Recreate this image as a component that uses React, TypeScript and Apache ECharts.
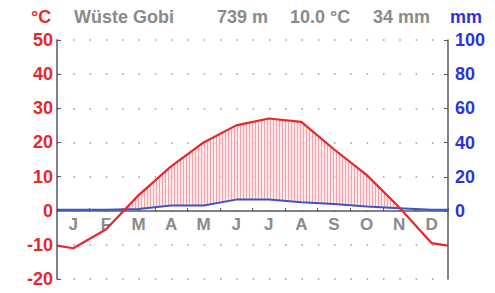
import React, { useEffect, useRef } from "react";
import * as echarts from "echarts";

const months = ["J", "F", "M", "A", "M", "J", "J", "A", "S", "O", "N", "D"];
const temperature = [-11, -5.5, 4.5, 13, 20, 25, 27, 26, 18, 10.5, 1, -9.5];
const precipitation = [0.5, 0.5, 1, 3, 3, 6.5, 6.5, 5, 4, 2.5, 1.5, 0.5];
const tempTicks = { min: -20, max: 50, step: 10 };
const precipTicks = { min: 0, max: 100, step: 20 };
const station = "Wüste Gobi";
const elevation = "739 m";
const meanTemp = "10.0 °C";
const totalPrecip = "34 mm";

const FONT = '"Liberation Sans", Arial, sans-serif';
const RED = "#e8262b";
const BLUE = "#2a35d8";
const GRAY = "#8a8a8a";
const AXIS = "#555a60";

function buildCurves() {
  const n = months.length;
  const edgeT = (temperature[0] + temperature[n - 1]) / 2;
  const edgeP = (precipitation[0] + precipitation[n - 1]) / 2;
  const xs = [0, ...months.map((_, i) => i + 0.5), n];
  const ts = [edgeT, ...temperature, edgeT];
  const ps = [edgeP, ...precipitation, edgeP];
  const tempLine = xs.map((x, i) => [x, ts[i]]);
  const precLine = xs.map((x, i) => [x, ps[i]]);
  const fx: number[] = [];
  const ft: number[] = [];
  const fp: number[] = [];
  for (let i = 0; i < xs.length; i++) {
    if (i > 0) {
      const d0 = ts[i - 1] - ps[i - 1] / 2;
      const d1 = ts[i] - ps[i] / 2;
      if (d0 * d1 < 0) {
        const f = d0 / (d0 - d1);
        fx.push(xs[i - 1] + f * (xs[i] - xs[i - 1]));
        ft.push(ts[i - 1] + f * (ts[i] - ts[i - 1]));
        fp.push(ps[i - 1] + f * (ps[i] - ps[i - 1]));
      }
    }
    fx.push(xs[i]);
    ft.push(ts[i]);
    fp.push(ps[i]);
  }
  return { tempLine, precLine, fx, ft, fp };
}

export default function App() {
  const ref = useRef<HTMLDivElement>(null);
  useEffect(() => {
    if (!ref.current) return;
    const chart = echarts.init(ref.current, undefined, { renderer: "svg" });
    const { tempLine, precLine, fx, ft, fp } = buildCurves();

    const cv = document.createElement("canvas");
    cv.width = 3;
    cv.height = 2;
    const ctx = cv.getContext("2d");
    if (ctx) {
      ctx.fillStyle = "rgba(255,220,225,0.6)";
      ctx.fillRect(0, 0, 3, 2);
      ctx.fillStyle = "rgba(242,120,128,0.65)";
      ctx.fillRect(0, 0, 1, 2);
    }
    const pattern: any = { image: cv.toDataURL(), repeat: "repeat", imageWidth: 3, imageHeight: 2 };

    const textStyle = (fill: string) => ({ fill, font: `bold 18px ${FONT}`, verticalAlign: "middle" });

    chart.setOption({
      animation: false,
      grid: [
        { left: 57, right: 47, top: 40, bottom: 14, outerBoundsMode: "none", containLabel: false },
        { left: 57, right: 47, top: 40, height: 171, outerBoundsMode: "none", containLabel: false },
      ],
      xAxis: [
        { type: "value", gridIndex: 0, min: 0, max: 12, show: false },
        {
          type: "category",
          gridIndex: 1,
          position: "bottom",
          data: months,
          boundaryGap: true,
          axisLine: { onZero: false, lineStyle: { color: AXIS, width: 1.5 } },
          axisTick: { show: true, inside: true, length: 3, lineStyle: { color: AXIS } },
          axisLabel: { color: GRAY, fontWeight: "bold", fontSize: 17, fontFamily: FONT, margin: 5 },
          splitLine: { show: false },
          z: 1,
        },
      ],
      yAxis: [
        {
          type: "value",
          gridIndex: 0,
          position: "left",
          min: tempTicks.min,
          max: tempTicks.max,
          interval: tempTicks.step,
          axisLine: { show: true, onZero: false, lineStyle: { color: AXIS, width: 1.5 } },
          axisTick: { show: true, inside: true, length: 4, lineStyle: { color: AXIS } },
          axisLabel: { color: RED, fontWeight: "bold", fontSize: 18, fontFamily: FONT, margin: 4 },
          splitLine: { show: true, lineStyle: { color: "#9a9a9a", width: 1.5, type: [1.5, 14.8] } },
        },
        {
          type: "value",
          gridIndex: 0,
          position: "right",
          min: -40,
          max: 100,
          interval: 20,
          axisLine: { show: true, onZero: false, lineStyle: { color: AXIS, width: 1.5 } },
          axisTick: { show: false },
          axisLabel: { show: false },
          splitLine: { show: false },
        },
        {
          type: "value",
          gridIndex: 1,
          position: "right",
          min: precipTicks.min,
          max: precipTicks.max,
          interval: precipTicks.step,
          axisLine: { show: false, onZero: false },
          axisTick: { show: true, inside: true, length: 4, lineStyle: { color: AXIS } },
          axisLabel: { color: BLUE, fontWeight: "bold", fontSize: 18, fontFamily: FONT, margin: 7 },
          splitLine: { show: false },
        },
      ],
      series: [
        {
          type: "custom",
          xAxisIndex: 0,
          yAxisIndex: 0,
          data: [[0, 0]],
          silent: true,
          z: 2,
          renderItem: (_params: any, api: any) => {
            const upper = fx.map((x, i) => api.coord([x, Math.max(ft[i], fp[i] / 2)]));
            const lower = fx.map((x, i) => api.coord([x, fp[i] / 2])).reverse();
            return {
              type: "polygon",
              shape: { points: [...upper, ...lower] },
              style: { fill: pattern, stroke: "none" },
            };
          },
        },
        {
          type: "line",
          xAxisIndex: 0,
          yAxisIndex: 1,
          data: precLine,
          symbol: "none",
          lineStyle: { color: "#3a55c8", width: 2 },
          z: 4,
        },
        {
          type: "line",
          xAxisIndex: 0,
          yAxisIndex: 0,
          data: tempLine,
          symbol: "none",
          lineStyle: { color: RED, width: 2.2 },
          z: 5,
        },
      ],
      graphic: [
        { type: "text", x: 31, y: 17, style: { text: "°C", ...textStyle(RED) } },
        { type: "text", x: 74, y: 17, style: { text: station, ...textStyle(GRAY) } },
        { type: "text", x: 217, y: 17, style: { text: elevation, ...textStyle(GRAY) } },
        { type: "text", x: 290, y: 17, style: { text: meanTemp, ...textStyle(GRAY) } },
        { type: "text", x: 373, y: 17, style: { text: totalPrecip, ...textStyle(GRAY) } },
        { type: "text", x: 450, y: 17, style: { text: "mm", ...textStyle(BLUE) } },
      ],
    });
    return () => chart.dispose();
  }, []);
  return <div ref={ref} style={{ width: 495, height: 293, position: "absolute", left: 0, top: 0 }} />;
}
